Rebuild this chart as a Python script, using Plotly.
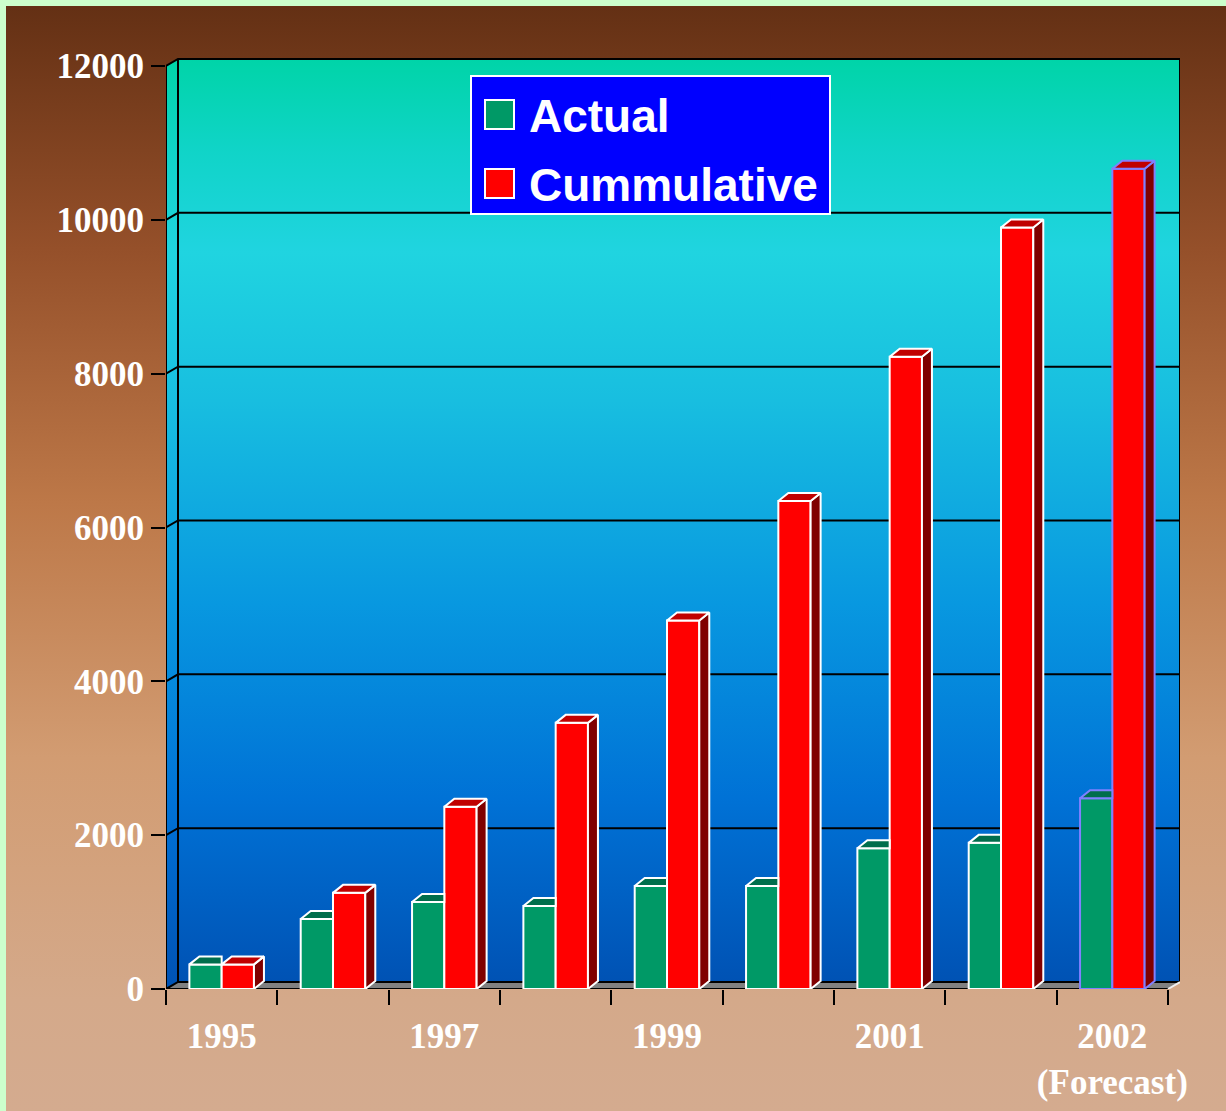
import plotly.graph_objects as go

# ---------------- data ----------------
categories = ["1995", "1996", "1997", "1998", "1999", "2000", "2001", "2001b", "2002"]
tick_labels = ["1995", "", "1997", "", "1999", "", "2001", "", "2002<br>(Forecast)"]
actual = [320, 910, 1130, 1080, 1340, 1340, 1830, 1900, 2480]
cumulative = [320, 1250, 2370, 3460, 4790, 6345, 8220, 9900, 10665]
y_ticks = [0, 2000, 4000, 6000, 8000, 10000, 12000]
y_tick_text = ["0", "2000", "4000", "6000", "8000", "10000", "12000"]
series_names = ["Actual", "Cummulative"]

# ---------------- geometry (pixels of the 1226x1111 page) ----------------
W, H = 1226, 1111
X_L, X_R = 166, 1180
Y_B, Y_T = 989, 57
n = len(categories)
CAT_PX = (1168 - 166) / n
UNIT_PX = 923 / 12000
x_range = [-0.5, -0.5 + (X_R - X_L) / CAT_PX]
y_range = [0, (Y_B - Y_T) / UNIT_PX]
DX, DY = 12 / CAT_PX, 7 / UNIT_PX          # wall depth
BDX, BDY = 10 / CAT_PX, 8 / UNIT_PX        # bar depth
BW = 0.29
xs = list(range(n))
left, right = -0.5, n - 0.5
top = y_ticks[-1]

xdom = [X_L / W, X_R / W]
ydom = [(H - Y_B) / H, (H - Y_T) / H]

GREEN, GREEN_TOP = "#009966", "#006e4c"
RED, RED_TOP, RED_SIDE = "#ff0000", "#c00000", "#800000"
EDGE, EDGE_FC = "white", "#8080ff"

fig = go.Figure()

# ---- page background (subplot x/y) ----
fig.add_trace(go.Scatter(
    x=[0, 1, 1, 0, 0], y=[0, 0, 1, 1, 0], xaxis="x", yaxis="y",
    mode="lines", fill="toself", line=dict(width=0), hoverinfo="skip", showlegend=False,
    fillgradient=dict(type="vertical", start=0, stop=1,
                      colorscale=[[0, "#d4ab8f"], [0.1, "#d4a98a"], [0.32, "#d29c72"],
                                  [0.55, "#bd7848"], [0.78, "#95502a"], [1, "#643014"]])))

# ---- walls, floor, gridlines (subplot x2/y2) ----
wall_scale = [[0, "#0052b4"], [0.2, "#0072d6"], [0.41, "#0898e0"], [0.63, "#18bee0"],
              [0.79, "#20d4e0"], [0.9, "#10d4c8"], [1, "#00d4a8"]]
fig.add_trace(go.Scatter(
    x=[left + DX, right + DX, right + DX, left + DX, left + DX],
    y=[DY, DY, top + DY, top + DY, DY], xaxis="x2", yaxis="y2",
    mode="lines", fill="toself", line=dict(width=0), hoverinfo="skip", showlegend=False,
    fillgradient=dict(type="vertical", start=DY, stop=top + DY, colorscale=wall_scale)))
fig.add_trace(go.Scatter(
    x=[left, left + DX, left + DX, left, left],
    y=[0, DY, top + DY, top, 0], xaxis="x2", yaxis="y2",
    mode="lines", fill="toself", line=dict(width=0), hoverinfo="skip", showlegend=False,
    fillgradient=dict(type="vertical", start=0, stop=top + DY, colorscale=wall_scale)))
fig.add_trace(go.Scatter(
    x=[left, right, right + DX, left + DX, left], y=[0, 0, DY, DY, 0],
    xaxis="x2", yaxis="y2", mode="lines", fill="toself", fillcolor="#808080",
    line=dict(width=0), hoverinfo="skip", showlegend=False))

gx, gy = [], []
for v in y_ticks:
    gx += [left, left + DX, right + DX, None]
    gy += [v, v + DY, v + DY, None]
gx += [left + DX, left + DX, None, right + DX, right + DX, None, left, left, None, left, right, None]
gy += [DY, top + DY, None, DY, top + DY, None, 0, top, None, 0, 0, None]
fig.add_trace(go.Scatter(x=gx, y=gy, xaxis="x2", yaxis="y2", mode="lines",
                         line=dict(color="black", width=2), hoverinfo="skip", showlegend=False))
fig.add_trace(go.Scatter(x=[right, right + DX], y=[0, DY], xaxis="x2", yaxis="y2", mode="lines",
                         line=dict(color="#f0f0f0", width=2), hoverinfo="skip", showlegend=False))

# ---- bars (subplot x3/y3) ----
edge_colors = [EDGE] * (n - 1) + [EDGE_FC]
fig.add_trace(go.Bar(x=xs, y=actual, width=BW, offset=-BW, name=series_names[0],
                     xaxis="x3", yaxis="y3", showlegend=False,
                     marker=dict(color=GREEN, line=dict(color=edge_colors, width=2))))
fig.add_trace(go.Bar(x=xs, y=cumulative, width=BW, offset=0, name=series_names[1],
                     xaxis="x3", yaxis="y3", showlegend=False,
                     marker=dict(color=RED, line=dict(color=edge_colors, width=2))))


def faces(idx):
    gtx, gty, rtx, rty, rsx, rsy = [], [], [], [], [], []
    for i in idx:
        g, r = actual[i], cumulative[i]
        gtx += [i - BW, i, i, i - BW + BDX, i - BW, None]
        gty += [g, g, g + BDY, g + BDY, g, None]
        rtx += [i, i + BW, i + BW + BDX, i + BDX, i, None]
        rty += [r, r, r + BDY, r + BDY, r, None]
        rsx += [i + BW, i + BW + BDX, i + BW + BDX, i + BW, i + BW, None]
        rsy += [0, BDY, r + BDY, r, 0, None]
    return (gtx, gty), (rtx, rty), (rsx, rsy)


for idx, edge in ((range(n - 1), EDGE), ([n - 1], EDGE_FC)):
    (gtx, gty), (rtx, rty), (rsx, rsy) = faces(idx)
    for px_, py_, col in ((gtx, gty, GREEN_TOP), (rsx, rsy, RED_SIDE), (rtx, rty, RED_TOP)):
        fig.add_trace(go.Scatter(x=px_, y=py_, xaxis="x3", yaxis="y3", mode="lines",
                                 fill="toself", fillcolor=col, line=dict(color=edge, width=2),
                                 hoverinfo="skip", showlegend=False))

label_font = dict(family="Liberation Serif", size=35, color="white", weight="bold")
hidden = dict(visible=False, automargin=False, fixedrange=True, showgrid=False, zeroline=False)

fig.update_layout(
    template="none",
    width=W, height=H, margin=dict(l=0, r=0, t=0, b=0, pad=0, autoexpand=False),
    paper_bgcolor="#ccffcc", plot_bgcolor="rgba(0,0,0,0)",
    barmode="overlay", showlegend=False,
    xaxis=dict(domain=[6 / W, 1], range=[0, 1], **hidden),
    yaxis=dict(domain=[0, 1 - 6 / H], range=[0, 1], **hidden),
    xaxis2=dict(domain=xdom, range=x_range, anchor="y2", **hidden),
    yaxis2=dict(domain=ydom, range=y_range, anchor="x2", **hidden),
    xaxis3=dict(domain=xdom, range=x_range, anchor="y3", showgrid=False, zeroline=False,
                showline=False, automargin=False, fixedrange=True,
                tickmode="array", tickvals=xs, ticktext=tick_labels, ticks="",
                tickfont=label_font, ticklabelstandoff=23,
                minor=dict(tickmode="array", tickvals=[k - 0.5 for k in range(n + 1)],
                           ticks="outside", ticklen=15, tickwidth=2, tickcolor="black",
                           showgrid=False)),
    yaxis3=dict(domain=ydom, range=y_range, anchor="x3", showgrid=False, zeroline=False,
                showline=False, automargin=False, fixedrange=True,
                tickmode="array", tickvals=y_ticks, ticktext=y_tick_text,
                ticks="outside", ticklen=14, tickwidth=2, tickcolor="black",
                tickfont=label_font, ticklabelstandoff=0),
)

# ---- legend box (drawn as a block, as in the original) ----
def fx(p):
    return p / W


def fy(p):
    return 1 - p / H


fig.add_shape(type="rect", xref="paper", yref="paper", x0=fx(471), x1=fx(830),
              y0=fy(214), y1=fy(76), fillcolor="#0000ff", line=dict(color="white", width=2))
for (y0, y1), col, name, ty in (((100, 129), GREEN, series_names[0], 116),
                                ((169, 198), RED, series_names[1], 185)):
    fig.add_shape(type="rect", xref="paper", yref="paper", x0=fx(485), x1=fx(514),
                  y0=fy(y1), y1=fy(y0), fillcolor=col, line=dict(color="white", width=2))
    fig.add_annotation(x=fx(527), y=fy(ty), xref="paper", yref="paper", text=name,
                       showarrow=False, xanchor="left", yanchor="middle",
                       font=dict(family="Liberation Sans", size=46, color="white", weight="bold"))

fig.write_html("out.html", config={"displayModeBar": False},
               post_script="document.body.style.margin='0';"
                           "document.documentElement.style.overflow='hidden';")
